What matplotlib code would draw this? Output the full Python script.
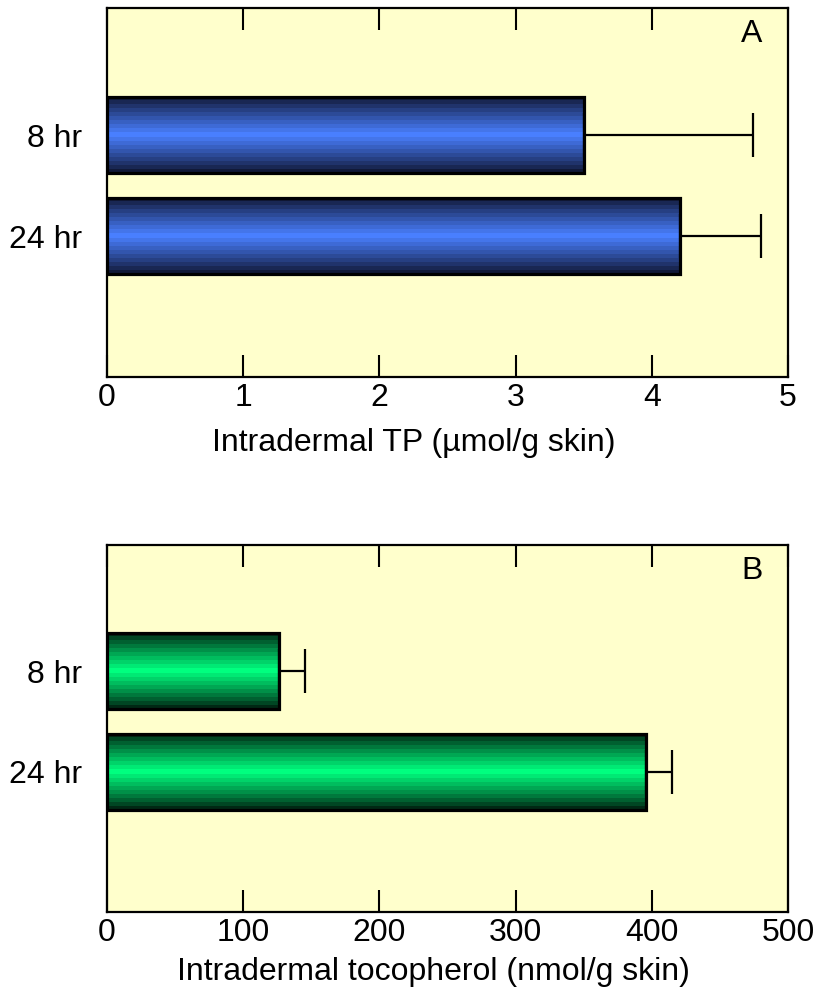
import numpy as np
import matplotlib.pyplot as plt

plt.rcParams['font.family'] = ['Liberation Sans', 'DejaVu Sans']

times = ['8 hr', '24 hr']
tp_vals = [3.50, 4.21]
tp_err = [1.24, 0.59]
toc_vals = [126, 396]
toc_err = [19.5, 19]

panels = [
    dict(vals=tp_vals, err=tp_err, xmax=5, ticks=[0, 1, 2, 3, 4, 5],
         label='Intradermal TP (\u00b5mol/g skin)', tag='A', lx=0.450,
         dark=(0.07, 0.10, 0.22), bright=(0.29, 0.50, 1.0)),
    dict(vals=toc_vals, err=toc_err, xmax=500, ticks=[0, 100, 200, 300, 400, 500],
         label='Intradermal tocopherol (nmol/g skin)', tag='B', lx=0.479,
         dark=(0.0, 0.16, 0.08), bright=(0.0, 1.0, 0.50)),
]

fig = plt.figure(figsize=(8.16, 9.94), dpi=100)
rects = [[0.1311, 0.6207, 0.8346, 0.3712], [0.1311, 0.0825, 0.8346, 0.3692]]

bar_h = 0.76
n_bands = 19
t = 1 - np.abs(np.linspace(-1, 1, n_bands))
fs = 23

for rect, p, lp in zip(rects, panels, [11, 7]):
    ax = fig.add_axes(rect)
    ax.set_facecolor('#ffffcc')
    dark = np.array(p['dark'])
    bright = np.array(p['bright'])
    cols = dark[None, :] + (bright - dark)[None, :] * t[:, None] ** 0.9
    img = cols[:, None, :]
    ys = np.arange(len(times))
    for y, v in zip(ys, p['vals']):
        ax.imshow(img, extent=[0, v, y + bar_h / 2, y - bar_h / 2],
                  aspect='auto', interpolation='nearest', zorder=2)
    ax.barh(ys, p['vals'], height=bar_h, facecolor='none',
            edgecolor='black', linewidth=2.3, zorder=3)
    ax.errorbar(p['vals'], ys, xerr=[[0, 0], p['err']], fmt='none',
                ecolor='black', elinewidth=1.6, capsize=15.5, capthick=1.6, zorder=4)
    ax.set_xlim(0, p['xmax'])
    ax.set_ylim(2.396, -1.257)
    ax.set_xticks(p['ticks'])
    ax.set_xticklabels([str(x) for x in p['ticks']], fontsize=fs)
    ax.set_yticks(ys)
    ax.set_yticklabels(times, fontsize=fs)
    ax.tick_params(axis='x', direction='in', length=16, width=1.5, top=True, pad=4)
    ax.tick_params(axis='y', length=0, pad=18)
    ax.set_xlabel(p['label'], fontsize=fs, labelpad=lp)
    ax.xaxis.label.set_x(p['lx'])
    for s in ax.spines.values():
        s.set_linewidth(1.6)
    ax.text(0.947, 0.93, p['tag'], transform=ax.transAxes, fontsize=fs,
            ha='center', va='center')

fig.savefig('out.png', dpi=100)
